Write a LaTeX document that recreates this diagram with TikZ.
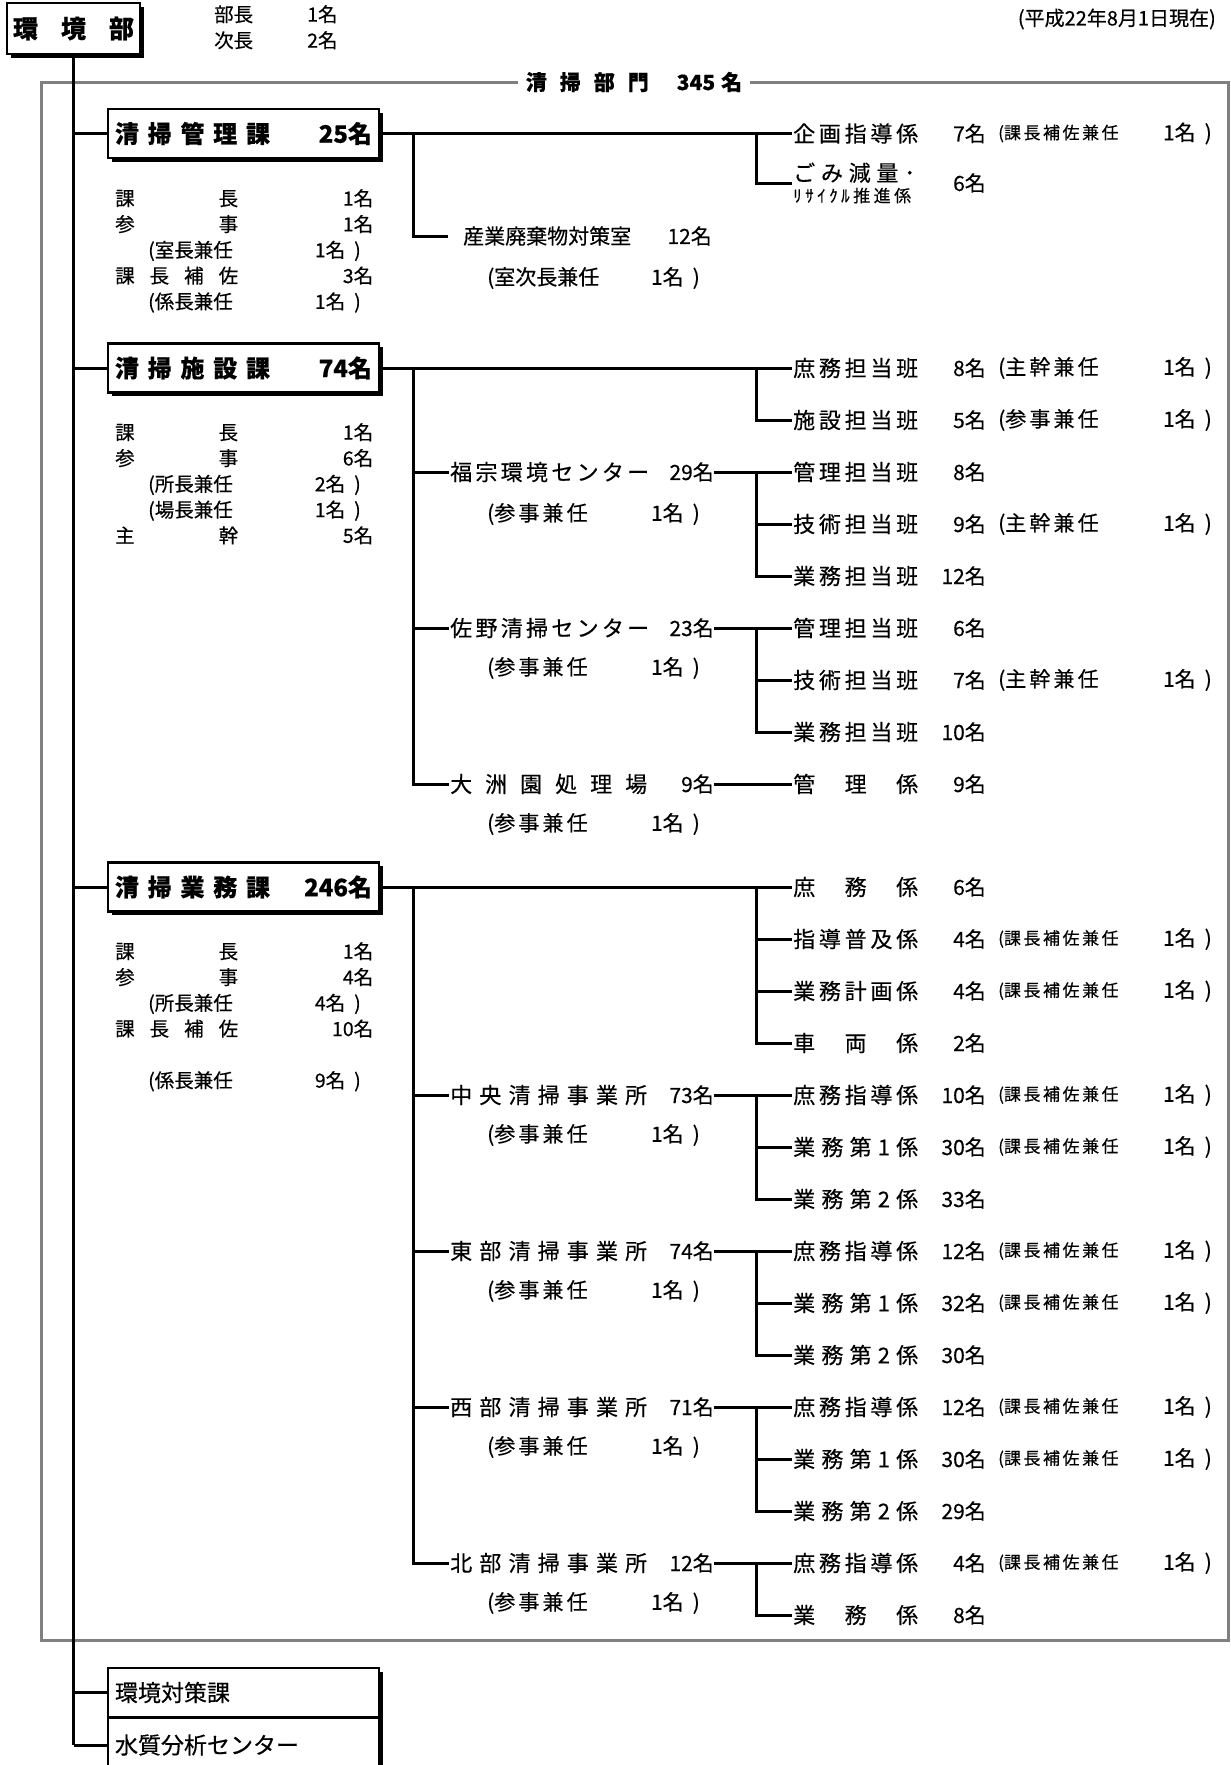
\documentclass[tikz,border=0pt]{standalone}
\usepackage{fontspec}
\setmainfont{Noto Sans CJK JP}[FakeBold=0.4]
\usepackage{tikz}
\usetikzlibrary{shadows}

\newcommand{\sprd}[2]{\makebox[#1][s]{#2}}
\newcommand{\meibo}[2]{\makebox[123pt][s]{#1}\makebox[135pt][r]{#2}}
\newcommand{\kenmu}[2]{\makebox[230pt][l]{\hspace*{33pt}(#1\hfill #2}\hspace{9pt})}
% leaf rows: id, y, name, count
\newcommand{\kakari}[4]{\node[kname] (#1) at (792,#2) {\sprd{125pt}{#3}};
  \node[kcnt] (#1c) at (986,#2) {#4};}
\newcommand{\kenninS}[3]{\node[kparen,font=\fontsize{17}{19}\selectfont] (#1p) at (998,#2) {\sprd{114pt}{(#3}};
  \node[kcnt] (#1q) at (1212,#2) {1名\hspace{9pt})};}
\newcommand{\kenninL}[3]{\node[kparen] (#1p) at (998,#2) {\sprd{97pt}{(#3}};
  \node[kcnt] (#1q) at (1212,#2) {1名\hspace{9pt})};}
% offices: id, y, name, count
\newcommand{\jigyo}[4]{\node[kname] (#1) at (449,#2) {\sprd{197pt}{#3}};
  \node[kcnt] (#1c) at (714,#2) {#4};}
\newcommand{\sanji}[3]{\node[kparen] (#1p) at (487,#2) {\sprd{98pt}{(#3}};
  \node[kcnt] (#1q) at (700,#2) {1名\hspace{9pt})};}

\begin{document}
\begin{tikzpicture}[x=1pt,y=-1pt,
  ln/.style={line width=3pt},
  frame/.style={draw=gray,line width=3pt},
  ka/.style={draw,line width=2.5pt,fill=white,minimum width=271pt,minimum height=49pt,
             inner xsep=7pt,font=\fontsize{24}{26}\selectfont\bfseries,
             drop shadow={shadow xshift=3.5pt,shadow yshift=-3.5pt,fill=black,opacity=1}},
  kabox/.style={ka,font=\fontsize{23}{25}\selectfont},
  meibolist/.style={anchor=north west,inner sep=0pt,align=left,font=\fontsize{19.5}{25.8}\selectfont},
  kname/.style={anchor=west,inner xsep=1pt,font=\fontsize{22}{25}\selectfont},
  kcnt/.style={anchor=east,inner xsep=0pt,font=\fontsize{21}{24}\selectfont},
  kparen/.style={anchor=west,inner xsep=0pt,font=\fontsize{21}{24}\selectfont}
]
\useasboundingbox (0,0) rectangle (1231,1765);
\coordinate (sbar) at (413,0);
\coordinate (lbar) at (756,0);

% head
\node[ka,minimum width=133pt,minimum height=51pt,inner xsep=6pt,font=\fontsize{25}{27}\selectfont\bfseries] (env) at (73.5,28.5) {\sprd{121pt}{環 境 部}};
\node[meibolist,font=\fontsize{19.5}{26}\selectfont] (yaku) at (214,5) {\makebox[93pt][l]{部長}1名\\\makebox[93pt][l]{次長}2名};
\node[anchor=east,inner sep=0pt,font=\fontsize{20}{22}\selectfont] (date) at (1216,19) {(平成22年8月1日現在)};

\draw[frame] (41,82) rectangle (1228,1640);
\node[fill=white,inner xsep=8pt,inner ysep=2pt,font=\fontsize{21}{23}\selectfont\bfseries] (bumon) at (634,82)
  {\sprd{123pt}{清 掃 部 門}\hspace{28pt}345\hspace{6pt}名};

% 清掃管理課
\node[ka] (kanri) at (243.5,133.5) {\sprd{257pt}{\sprd{155pt}{清 掃 管 理 課}\hfill 25名}};
\node[meibolist] (kanrim) at (115,189)
  {\meibo{課 長}{1名}\\\meibo{参 事}{1名}\\\kenmu{室長兼任}{1名}\\\meibo{課 長 補 佐}{3名}\\\kenmu{係長兼任}{1名}};
\kakari{kikaku}{133.5}{企 画 指 導 係}{7名}
\kenninS{kikaku}{133.5}{課 長 補 佐 兼 任}
\node[kname,align=left] (gomi) at (792,183)
  {\sprd{122pt}{ご み 減 量 ･}\\[-4pt]{\fontsize{17}{19}\selectfont\sprd{118pt}{ﾘ ｻ ｲ ｸ ﾙ 推 進 係}}};
\node[kcnt] (gomic) at (986,183) {6名};
\node[kname,inner xsep=15pt,font=\fontsize{21}{24}\selectfont] (sangyo) at (448,236) {産業廃棄物対策室};
\node[kcnt] (sangyoc) at (712,236) {12名};
\node[kparen] (sangyop) at (487,278) {(室次長兼任};
\node[kcnt] (sangyoq) at (700,278) {1名\hspace{9pt})};

% 清掃施設課
\node[ka] (shisetsu) at (243.5,368) {\sprd{257pt}{\sprd{155pt}{清 掃 施 設 課}\hfill 74名}};
\node[meibolist] (shisetsum) at (115,423)
  {\meibo{課 長}{1名}\\\meibo{参 事}{6名}\\\kenmu{所長兼任}{2名}\\\kenmu{場長兼任}{1名}\\\meibo{主 幹}{5名}};
\kakari{shomuhan}{368}{庶 務 担 当 班}{8名}
\kenninL{shomuhan}{368}{主 幹 兼 任}
\kakari{setsubi}{420}{施 設 担 当 班}{5名}
\kenninL{setsubi}{420}{参 事 兼 任}
\jigyo{fuku}{472}{福 宗 環 境 セ ン タ ー}{29名}
\sanji{fuku}{514}{参 事 兼 任}
\kakari{fka}{472}{管 理 担 当 班}{8名}
\kakari{fkb}{524}{技 術 担 当 班}{9名}
\kenninL{fkb}{524}{主 幹 兼 任}
\kakari{fkc}{576}{業 務 担 当 班}{12名}
\jigyo{sano}{628}{佐 野 清 掃 セ ン タ ー}{23名}
\sanji{sano}{668}{参 事 兼 任}
\kakari{sna}{628}{管 理 担 当 班}{6名}
\kakari{snb}{680}{技 術 担 当 班}{7名}
\kenninL{snb}{680}{主 幹 兼 任}
\kakari{snc}{732}{業 務 担 当 班}{10名}
\jigyo{oozu}{784}{大 洲 園 処 理 場}{9名}
\sanji{oozu}{824}{参 事 兼 任}
\kakari{oza}{784}{管 理 係}{9名}

% 清掃業務課
\node[ka] (gyomu) at (243.5,887) {\sprd{257pt}{\sprd{155pt}{清 掃 業 務 課}\hfill 246名}};
\node[meibolist] (gyomum) at (115,942)
  {\meibo{課 長}{1名}\\\meibo{参 事}{4名}\\\kenmu{所長兼任}{4名}\\\meibo{課 長 補 佐}{10名}\\[25.8pt]\kenmu{係長兼任}{9名}};
\kakari{shomukei}{887}{庶 務 係}{6名}
\kakari{shido}{939}{指 導 普 及 係}{4名}
\kenninS{shido}{939}{課 長 補 佐 兼 任}
\kakari{keikaku}{991}{業 務 計 画 係}{4名}
\kenninS{keikaku}{991}{課 長 補 佐 兼 任}
\kakari{sharyo}{1043}{車 両 係}{2名}
\jigyo{chuo}{1095}{中 央 清 掃 事 業 所}{73名}
\sanji{chuo}{1135}{参 事 兼 任}
\kakari{cha}{1095}{庶 務 指 導 係}{10名}
\kenninS{cha}{1095}{課 長 補 佐 兼 任}
\kakari{chb}{1147}{業 務 第 1 係}{30名}
\kenninS{chb}{1147}{課 長 補 佐 兼 任}
\kakari{chc}{1199}{業 務 第 2 係}{33名}
\jigyo{tobu}{1251}{東 部 清 掃 事 業 所}{74名}
\sanji{tobu}{1291}{参 事 兼 任}
\kakari{tba}{1251}{庶 務 指 導 係}{12名}
\kenninS{tba}{1251}{課 長 補 佐 兼 任}
\kakari{tbb}{1303}{業 務 第 1 係}{32名}
\kenninS{tbb}{1303}{課 長 補 佐 兼 任}
\kakari{tbc}{1355}{業 務 第 2 係}{30名}
\jigyo{seibu}{1407}{西 部 清 掃 事 業 所}{71名}
\sanji{seibu}{1447}{参 事 兼 任}
\kakari{sba}{1407}{庶 務 指 導 係}{12名}
\kenninS{sba}{1407}{課 長 補 佐 兼 任}
\kakari{sbb}{1459}{業 務 第 1 係}{30名}
\kenninS{sbb}{1459}{課 長 補 佐 兼 任}
\kakari{sbc}{1511}{業 務 第 2 係}{29名}
\jigyo{hokubu}{1563}{北 部 清 掃 事 業 所}{12名}
\sanji{hokubu}{1603}{参 事 兼 任}
\kakari{hba}{1563}{庶 務 指 導 係}{4名}
\kenninS{hba}{1563}{課 長 補 佐 兼 任}
\kakari{hbb}{1615}{業 務 係}{8名}

% outside the section
\node[kabox] (kankyo) at (243.5,1692.5) {\makebox[257pt][l]{環境対策課}};
\node[kabox,minimum height=55pt] (suishitsu) at (243.5,1745) {\makebox[257pt][l]{水質分析センター}};

% trunk
\draw[ln] (env.south) -- (env |- suishitsu.west);
\foreach \k in {kanri,shisetsu,gyomu,kankyo,suishitsu}
  \draw[ln] (env |- \k.west) -- (\k.west);

% 管理課 lines
\draw[ln] (kanri.east) -- (kikaku.west);
\draw[ln] (lbar |- kanri.east) |- (gomi.west);
\draw[ln] (sbar |- kanri.east) |- (sangyo.west);

% 施設課 lines
\draw[ln] (shisetsu.east) -- (shomuhan.west);
\draw[ln] (lbar |- shisetsu.east) |- (setsubi.west);
\draw[ln] (sbar |- shisetsu.east) |- (oozu.west);
\draw[ln] (sbar |- fuku.west) -- (fuku.west);
\draw[ln] (sbar |- sano.west) -- (sano.west);
\draw[ln] (fukuc.east) -- (fka.west);
\draw[ln] (lbar |- fka.west) |- (fkc.west);
\draw[ln] (lbar |- fkb.west) -- (fkb.west);
\draw[ln] (sanoc.east) -- (sna.west);
\draw[ln] (lbar |- sna.west) |- (snc.west);
\draw[ln] (lbar |- snb.west) -- (snb.west);
\draw[ln] (oozuc.east) -- (oza.west);

% 業務課 lines
\draw[ln] (gyomu.east) -- (shomukei.west);
\draw[ln] (lbar |- gyomu.east) |- (sharyo.west);
\draw[ln] (lbar |- shido.west) -- (shido.west);
\draw[ln] (lbar |- keikaku.west) -- (keikaku.west);
\draw[ln] (sbar |- gyomu.east) |- (hokubu.west);
\foreach \j in {chuo,tobu,seibu}
  \draw[ln] (sbar |- \j.west) -- (\j.west);
\draw[ln] (chuoc.east) -- (cha.west);
\draw[ln] (lbar |- cha.west) |- (chc.west);
\draw[ln] (lbar |- chb.west) -- (chb.west);
\draw[ln] (tobuc.east) -- (tba.west);
\draw[ln] (lbar |- tba.west) |- (tbc.west);
\draw[ln] (lbar |- tbb.west) -- (tbb.west);
\draw[ln] (seibuc.east) -- (sba.west);
\draw[ln] (lbar |- sba.west) |- (sbc.west);
\draw[ln] (lbar |- sbb.west) -- (sbb.west);
\draw[ln] (hokubuc.east) -- (hba.west);
\draw[ln] (lbar |- hba.west) |- (hbb.west);
\end{tikzpicture}
\end{document}
